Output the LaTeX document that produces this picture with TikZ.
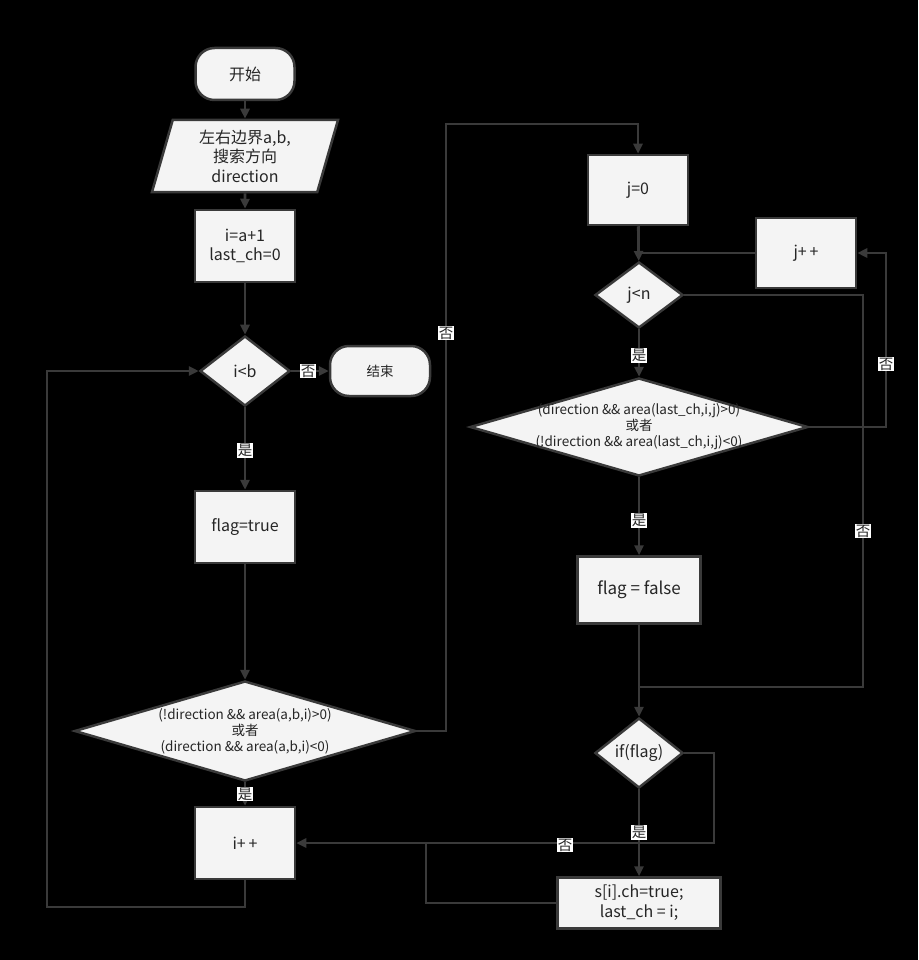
\documentclass[tikz,border=0pt]{standalone}
\usepackage{fontspec}
\setmainfont{Noto Sans CJK SC}
\usetikzlibrary{shapes.geometric,arrows.meta}
\definecolor{lncol}{HTML}{3A3A3A}
\definecolor{bxcol}{HTML}{F4F4F4}
\begin{document}
\begin{tikzpicture}[x=1pt,y=-1pt,
  base/.style={draw=lncol, line width=2.5pt, fill=bxcol, text=black!85, align=center, inner sep=0pt,
    font=\fontsize{16}{19.5}\selectfont},
  term/.style={base, rectangle, rounded corners=19pt},
  io/.style={base, trapezium, trapezium left angle=76, trapezium right angle=104, trapezium stretches=true},
  procbox/.style={base, rectangle},
  decis/.style={base, diamond},
  conn/.style={draw=lncol, line width=2.8pt},
  arr/.style={conn, -{Triangle[length=10pt,width=9pt]}},
  lab/.style={fill=white, text=black!85, inner sep=1pt, font=\fontsize{14.5}{14.5}\selectfont},
  small/.style={font=\fontsize{13.5}{16}\selectfont}
]
\fill[black] (0,0) rectangle (918,960);
\useasboundingbox (0,0) rectangle (918,960);

% left column
\node[term, minimum width=99pt, minimum height=52pt] (start) at (245,74) {开始};
\node[io, minimum width=186pt, minimum height=72pt] (input) at (245,156) {左右边界a,b,\\搜索方向\\direction};
\node[procbox, minimum width=100pt, minimum height=72pt] (init) at (245,246) {i=a+1\\last\_ch=0};
\node[decis, minimum width=90pt, minimum height=70pt] (c1) at (245,371) {i<b};
\node[term, minimum width=100pt, minimum height=50pt, font=\fontsize{13.5}{15}\selectfont] (stop) at (380,371) {结束};
\node[procbox, minimum width=100pt, minimum height=72pt] (flagT) at (245,527) {flag=true};
\node[decis, minimum width=341pt, minimum height=100pt,
  label={[small, align=center, text=black!85]center:(!direction \&\& area(a,b,i)>0)\\或者\\(direction \&\& area(a,b,i)<0)}] (c2) at (245,731) {};
\node[procbox, minimum width=100pt, minimum height=72pt] (ipp) at (245,843) {i+\,+};

% right column
\node[procbox, minimum width=100pt, minimum height=70pt] (j0) at (638,190) {j=0};
\node[decis, minimum width=88pt, minimum height=66pt] (cjn) at (639,295) {j<n};
\node[procbox, minimum width=100pt, minimum height=70pt] (jpp) at (806,253) {j+\,+};
\node[decis, minimum width=338pt, minimum height=98pt,
  label={[small, align=center, text=black!85]center:(direction \&\& area(last\_ch,i,j)>0)\\或者\\(!direction \&\& area(last\_ch,i,j)<0)}] (c3) at (639,427) {};
\node[procbox, minimum width=123pt, minimum height=67pt, font=\fontsize{17}{20}\selectfont] (flagF) at (639,590) {flag = false};
\node[decis, minimum width=88pt, minimum height=70pt] (cif) at (639,753) {if(flag)};
\node[procbox, minimum width=163pt, minimum height=51pt, font=\fontsize{16}{20}\selectfont] (sset) at (639,903) {s[i].ch=true;\\last\_ch = i;};

% helper coordinates
\coordinate (lp1) at (47,907);
\coordinate (r1) at (446,124);
\coordinate (r2) at (863,687);
\coordinate (r3) at (886,253);
\coordinate (r4) at (714,843);
\coordinate (r5) at (426,843);
\coordinate (mj) at (639,253);
\coordinate (mf) at (639,687);

% connectors
\draw[arr] (start) -- (input);
\draw[arr] (input) -- (init);
\draw[arr] (init) -- (c1);
\draw[arr] (c1) -- node[lab, pos=0.45] (l1) {否} (stop);
\draw[arr] (c1) -- node[lab, pos=0.52] (l2) {是} (flagT);
\draw[arr] (flagT) -- (c2);
\draw[arr] (c2) -- node[lab, pos=0.5] (l3) {是} (ipp);
\draw[arr] (ipp.south) |- (lp1) |- (c1.west);
\draw[arr] (c2.east) -| (r1) -| (j0.north);
\node[lab] (l4) at (446,333) {否};
\draw[arr] (j0) -- (cjn);
\draw[conn] (jpp.west) -- (mj);
\draw[conn] (cjn.east) -| (r2) -- (mf);
\node[lab] (l5) at (863,531) {否};
\draw[arr] (cjn) -- node[lab, pos=0.55] (l6) {是} (c3);
\draw[arr] (c3.east) -| (r3) -- (jpp.east);
\node[lab] (l7) at (886,364) {否};
\draw[arr] (c3) -- node[lab, pos=0.55] (l8) {是} (flagF);
\draw[arr] (flagF) -- (cif);
\draw[arr] (cif.east) -| (r4) -- (ipp.east);
\node[lab] (l9) at (565,845) {否};
\draw[arr] (cif) -- node[lab, pos=0.5] (l10) {是} (sset);
\draw[conn] (sset.west) -| (r5);
\end{tikzpicture}
\end{document}
